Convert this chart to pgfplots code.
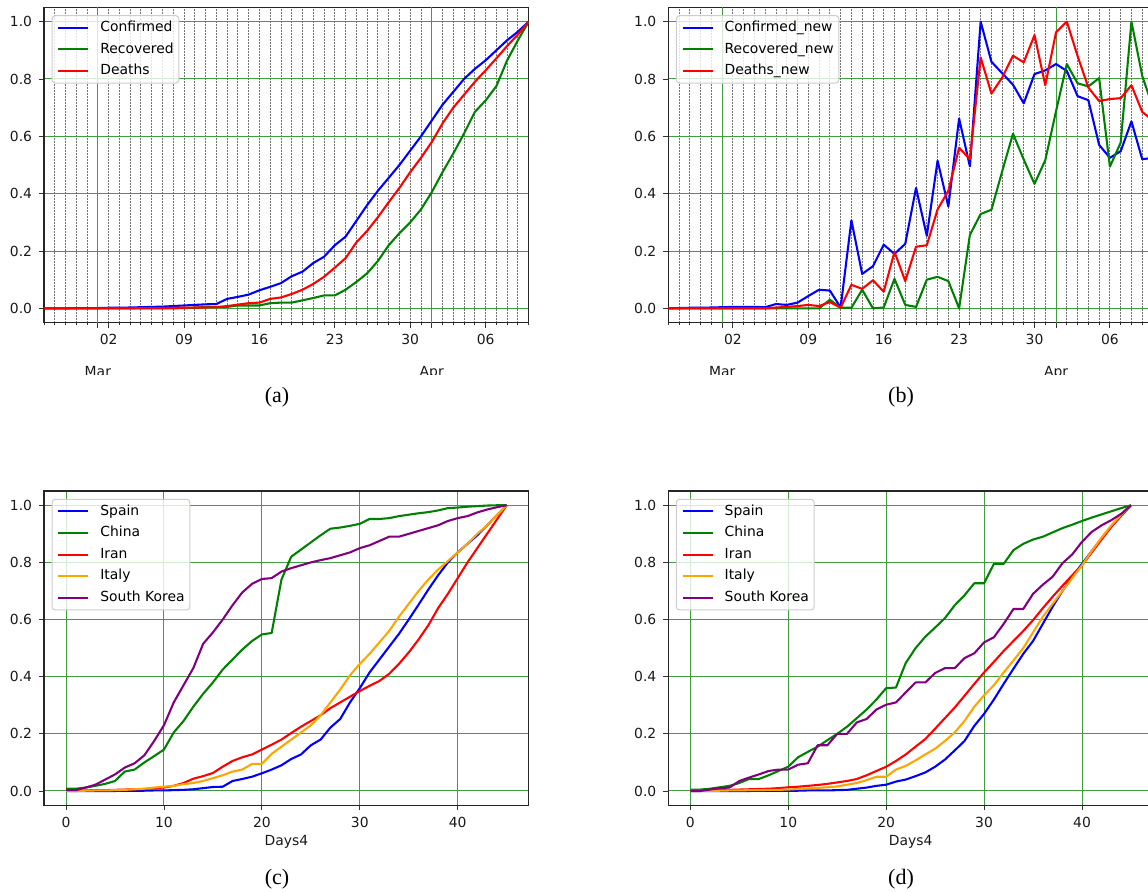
\documentclass[border=0pt]{standalone}
\usepackage{fontspec}
\setmainfont{DejaVu Sans}
\newfontfamily\capfont{Liberation Serif}
\usepackage{pgfplots}
\usepackage{pgfplotstable}
\pgfplotsset{compat=1.18}

\definecolor{mblue}{rgb}{0,0,1}
\definecolor{mgreen}{rgb}{0,0.5,0}
\definecolor{mred}{rgb}{1,0,0}
\definecolor{morange}{rgb}{1,0.647,0}
\definecolor{mpurple}{rgb}{0.5,0,0.5}
\definecolor{gridgreen}{rgb}{0.25,0.62,0.25}

\pgfplotstableread{
i C R D CN RN DN
0 0.000 0.000 0.000 0.000 0.000 0.000
1 0.000 0.000 0.000 0.001 0.000 0.000
2 0.000 0.000 0.000 0.002 0.000 0.000
3 0.001 0.000 0.000 0.002 0.000 0.000
4 0.001 0.000 0.000 0.003 0.000 0.000
5 0.001 0.000 0.000 0.004 0.000 0.000
6 0.002 0.000 0.000 0.005 0.000 0.000
7 0.002 0.000 0.000 0.005 0.000 0.000
8 0.003 0.000 0.000 0.005 0.000 0.000
9 0.004 0.000 0.001 0.004 0.000 0.000
10 0.005 0.000 0.001 0.015 0.000 0.003
11 0.006 0.000 0.001 0.012 0.000 0.005
12 0.008 0.000 0.002 0.020 0.000 0.008
13 0.010 0.001 0.002 0.043 0.000 0.012
14 0.012 0.002 0.003 0.065 0.000 0.008
15 0.014 0.005 0.003 0.062 0.030 0.022
16 0.015 0.005 0.004 0.003 0.002 0.002
17 0.033 0.005 0.008 0.307 0.002 0.082
18 0.040 0.010 0.013 0.120 0.065 0.068
19 0.048 0.010 0.018 0.147 0.000 0.098
20 0.063 0.010 0.020 0.222 0.003 0.058
21 0.075 0.018 0.033 0.190 0.103 0.197
22 0.088 0.020 0.038 0.225 0.012 0.095
23 0.112 0.020 0.050 0.420 0.005 0.215
24 0.128 0.028 0.065 0.253 0.100 0.220
25 0.158 0.036 0.085 0.515 0.110 0.345
26 0.180 0.045 0.110 0.355 0.095 0.410
27 0.220 0.045 0.142 0.662 0.000 0.560
28 0.250 0.065 0.175 0.495 0.256 0.520
29 0.305 0.092 0.230 1.000 0.329 0.875
30 0.360 0.122 0.270 0.860 0.344 0.749
31 0.410 0.165 0.318 0.820 0.478 0.805
32 0.455 0.220 0.370 0.780 0.609 0.881
33 0.500 0.262 0.420 0.715 0.519 0.858
34 0.550 0.300 0.475 0.817 0.434 0.953
35 0.600 0.345 0.525 0.830 0.517 0.778
36 0.655 0.405 0.580 0.852 0.688 0.963
37 0.710 0.475 0.645 0.828 0.852 1.000
38 0.755 0.540 0.700 0.740 0.785 0.880
39 0.800 0.610 0.745 0.726 0.774 0.770
40 0.835 0.685 0.790 0.570 0.803 0.723
41 0.865 0.725 0.830 0.525 0.494 0.730
42 0.900 0.775 0.872 0.548 0.578 0.733
43 0.935 0.865 0.915 0.652 1.000 0.778
44 0.965 0.935 0.955 0.520 0.811 0.685
45 1.000 1.000 1.000 0.525 0.700 0.655
}\tabAB

\pgfplotstableread{
i Spain China Iran Italy Korea
0 0.000 0.008 0.005 0.000 0.003
1 0.000 0.008 0.000 0.000 0.003
2 0.000 0.012 0.002 0.001 0.012
3 0.000 0.018 0.003 0.002 0.022
4 0.000 0.025 0.003 0.002 0.040
5 0.000 0.035 0.004 0.003 0.058
6 0.001 0.068 0.005 0.004 0.082
7 0.001 0.075 0.006 0.006 0.097
8 0.001 0.100 0.007 0.008 0.125
9 0.002 0.122 0.010 0.012 0.175
10 0.002 0.145 0.012 0.015 0.230
11 0.003 0.205 0.018 0.018 0.310
12 0.004 0.245 0.028 0.024 0.370
13 0.006 0.295 0.043 0.028 0.430
14 0.010 0.340 0.052 0.035 0.515
15 0.014 0.380 0.063 0.045 0.555
16 0.015 0.425 0.085 0.055 0.600
17 0.035 0.460 0.105 0.068 0.650
18 0.042 0.495 0.118 0.075 0.695
19 0.050 0.525 0.128 0.095 0.725
20 0.062 0.548 0.145 0.095 0.742
21 0.075 0.553 0.162 0.130 0.745
22 0.090 0.740 0.180 0.155 0.768
23 0.112 0.820 0.203 0.180 0.780
24 0.128 0.845 0.225 0.205 0.790
25 0.160 0.870 0.245 0.230 0.800
26 0.180 0.895 0.265 0.265 0.808
27 0.222 0.918 0.290 0.310 0.815
28 0.252 0.922 0.310 0.355 0.825
29 0.310 0.928 0.330 0.405 0.835
30 0.360 0.935 0.350 0.445 0.850
31 0.415 0.952 0.368 0.480 0.860
32 0.460 0.952 0.385 0.520 0.875
33 0.505 0.955 0.410 0.560 0.890
34 0.550 0.962 0.445 0.610 0.890
35 0.600 0.967 0.485 0.655 0.900
36 0.652 0.972 0.530 0.700 0.910
37 0.705 0.976 0.580 0.740 0.920
38 0.755 0.982 0.640 0.775 0.930
39 0.800 0.990 0.690 0.805 0.945
40 0.835 0.992 0.745 0.835 0.955
41 0.865 0.995 0.800 0.865 0.962
42 0.895 0.997 0.850 0.900 0.975
43 0.930 0.999 0.900 0.930 0.985
44 0.965 1.000 0.950 0.965 0.993
45 1.000 1.000 1.000 1.000 1.000
}\tabC

\pgfplotstableread{
i Spain China Iran Italy Korea
0 0.000 0.005 0.002 0.000 0.000
1 0.000 0.005 0.002 0.000 0.000
2 0.000 0.008 0.003 0.001 0.005
3 0.000 0.013 0.004 0.001 0.010
4 0.000 0.018 0.004 0.002 0.012
5 0.000 0.028 0.005 0.002 0.035
6 0.000 0.042 0.006 0.003 0.047
7 0.001 0.042 0.007 0.003 0.058
8 0.001 0.055 0.008 0.004 0.070
9 0.001 0.070 0.010 0.004 0.075
10 0.001 0.085 0.013 0.005 0.075
11 0.001 0.118 0.015 0.007 0.092
12 0.002 0.137 0.018 0.009 0.097
13 0.002 0.155 0.021 0.011 0.160
14 0.002 0.178 0.025 0.013 0.160
15 0.003 0.200 0.030 0.016 0.200
16 0.004 0.225 0.035 0.022 0.200
17 0.008 0.255 0.042 0.028 0.240
18 0.012 0.285 0.055 0.038 0.252
19 0.018 0.320 0.070 0.050 0.285
20 0.022 0.360 0.085 0.050 0.302
21 0.033 0.362 0.105 0.075 0.310
22 0.040 0.448 0.128 0.088 0.345
23 0.052 0.500 0.155 0.107 0.380
24 0.065 0.540 0.182 0.128 0.380
25 0.085 0.572 0.218 0.148 0.413
26 0.110 0.605 0.255 0.175 0.430
27 0.142 0.650 0.292 0.205 0.430
28 0.175 0.685 0.333 0.245 0.465
29 0.228 0.727 0.375 0.295 0.482
30 0.270 0.727 0.415 0.335 0.520
31 0.320 0.795 0.452 0.370 0.538
32 0.375 0.795 0.490 0.415 0.585
33 0.428 0.843 0.525 0.457 0.637
34 0.480 0.865 0.560 0.500 0.637
35 0.525 0.880 0.598 0.555 0.690
36 0.585 0.890 0.640 0.610 0.722
37 0.645 0.905 0.680 0.655 0.750
38 0.700 0.920 0.718 0.700 0.797
39 0.750 0.932 0.755 0.745 0.828
40 0.795 0.945 0.790 0.790 0.872
41 0.840 0.957 0.835 0.840 0.907
42 0.885 0.968 0.880 0.887 0.930
43 0.925 0.979 0.925 0.930 0.948
44 0.965 0.990 0.963 0.967 0.970
45 1.000 1.000 1.000 1.000 1.000
}\tabD

\pgfplotsset{
  common/.style={
    scale only axis, width=242.35pt, height=157.7pt,
    ymin=-0.05, ymax=1.05, ytick={0,0.2,0.4,0.6,0.8,1},
    /pgf/number format/assume math mode=true,
    yticklabel style={/pgf/number format/.cd, fixed, fixed zerofill, precision=1, assume math mode=true},
    tick label style={font=\fontsize{6.95}{8}\selectfont, text=black!90},
    tick align=outside, tick pos=left,
    major tick length=2.45pt, minor tick length=1.4pt,
    every tick/.style={black!80, line width=0.45pt},
    axis line style={black!85, line width=0.55pt},
    ymajorgrids, y grid style={gridgreen, solid, line width=0.5pt},
    legend cell align=left,
    legend image code/.code={\draw[##1] (0pt,0pt) -- (15pt,0pt);},
    legend style={font=\fontsize{6.95}{8}\selectfont, at={(axis description cs:0.0157,0.975)}, anchor=north west,
      draw=black!20, line width=0.5pt, rounded corners=1.5pt, fill=white, fill opacity=0.8, text opacity=1,
      inner xsep=2.6pt, inner ysep=2.8pt, row sep=4.3pt, column sep=5.5pt,
      nodes={inner sep=0pt, text height=5.1pt, text depth=1.4pt}},
    every axis plot/.append style={line width=1.04pt, line join=round, no marks},
  },
  date/.style={
    common, xmin=0, xmax=45,
    xtick={6,13,20,27,34,41}, xticklabels={02,09,16,23,30,06},
    minor xtick={0,...,45},
    xmajorgrids, xminorgrids,
    x grid style={black!55, dash pattern=on 0.6pt off 0.9pt, line width=0.45pt},
    extra x ticks={5,36}, extra x tick labels={Mar,Apr},
    extra x tick style={xmajorgrids=true, x grid style={gridgreen, solid, line width=0.5pt},
      tick label style={yshift=-16pt}},
  },
  days/.style={
    common, height=157.15pt, xmin=-2.25, xmax=47.25,
    xtick={0,10,20,30,40},
    xmajorgrids, x grid style={gridgreen, solid, line width=0.5pt},
    xlabel={Days4},
    every axis x label/.style={at={(axis description cs:0.5,0)}, yshift=-18.2pt, anchor=center,
      font=\fontsize{6.95}{8}\selectfont, text=black!90},
  },
}

\begin{document}
\begin{tikzpicture}
\useasboundingbox (0,0) rectangle (574pt,446pt);
\clip (0,0) rectangle (574pt,446pt);
\begin{scope}
\clip (0pt,258.75pt) rectangle (574pt,446pt);
\begin{axis}[date, at={(22pt,284.65pt)}, anchor=south west]
\addplot[mblue] table[x=i,y=C] {\tabAB};
\addplot[mgreen] table[x=i,y=R] {\tabAB};
\addplot[mred] table[x=i,y=D] {\tabAB};
\legend{Confirmed,Recovered,Deaths}
\end{axis}
\begin{axis}[date, at={(334.15pt,284.65pt)}, anchor=south west]
\addplot[mblue] table[x=i,y=CN] {\tabAB};
\addplot[mgreen] table[x=i,y=RN] {\tabAB};
\addplot[mred] table[x=i,y=DN] {\tabAB};
\legend{Confirmed\_new,Recovered\_new,Deaths\_new}
\end{axis}
\end{scope}
\begin{axis}[days, at={(22pt,43.35pt)}, anchor=south west]
\addplot[mblue] table[x=i,y=Spain] {\tabC};
\addplot[mgreen] table[x=i,y=China] {\tabC};
\addplot[mred] table[x=i,y=Iran] {\tabC};
\addplot[morange] table[x=i,y=Italy] {\tabC};
\addplot[mpurple] table[x=i,y=Korea] {\tabC};
\legend{Spain,China,Iran,Italy,South Korea}
\end{axis}
\begin{axis}[days, at={(334.15pt,43.35pt)}, anchor=south west]
\addplot[mblue] table[x=i,y=Spain] {\tabD};
\addplot[mgreen] table[x=i,y=China] {\tabD};
\addplot[mred] table[x=i,y=Iran] {\tabD};
\addplot[morange] table[x=i,y=Italy] {\tabD};
\addplot[mpurple] table[x=i,y=Korea] {\tabD};
\legend{Spain,China,Iran,Italy,South Korea}
\end{axis}
\node[font=\capfont\fontsize{11}{13}\selectfont] at (138.5pt,247.5pt) {(a)};
\node[font=\capfont\fontsize{11}{13}\selectfont] at (450.5pt,247.5pt) {(b)};
\node[font=\capfont\fontsize{11}{13}\selectfont] at (138.5pt,6.5pt) {(c)};
\node[font=\capfont\fontsize{11}{13}\selectfont] at (450.5pt,6.5pt) {(d)};
\end{tikzpicture}
\end{document}
